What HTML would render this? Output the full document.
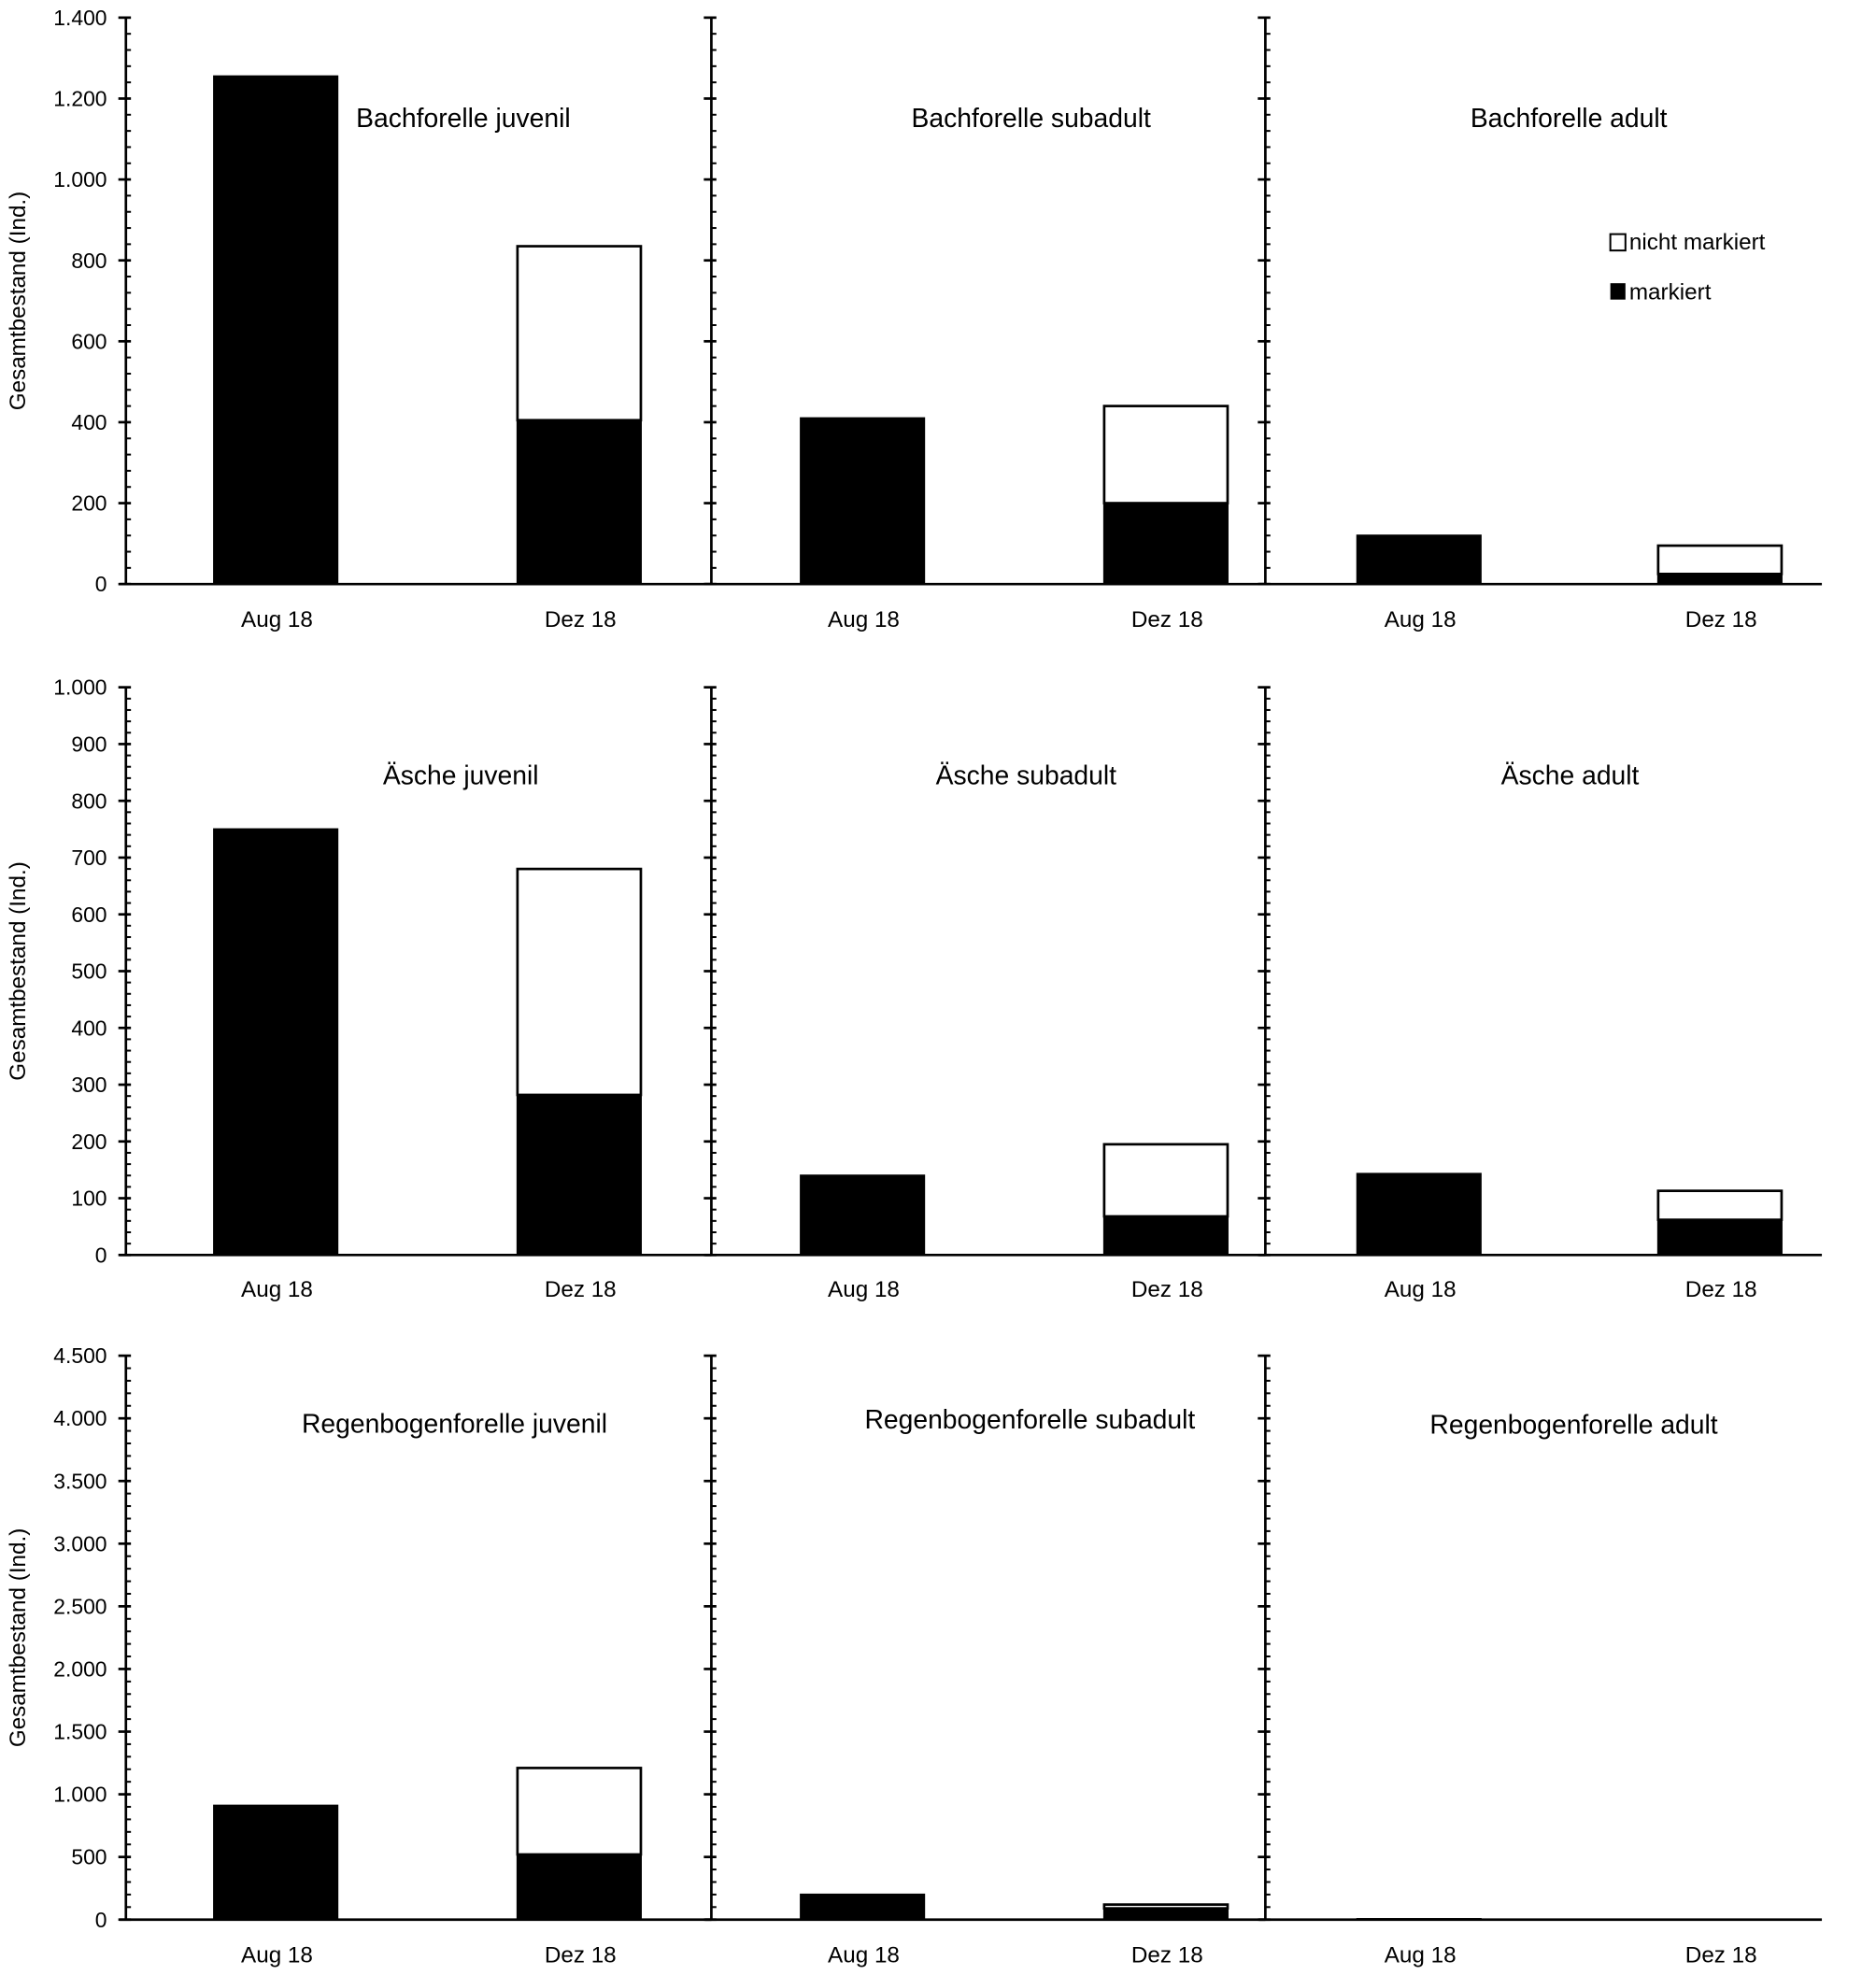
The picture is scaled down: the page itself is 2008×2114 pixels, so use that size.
<!DOCTYPE html>
<html><head><meta charset="utf-8"><style>
html,body{margin:0;padding:0;background:#fff}
svg{display:block;font-family:"Liberation Sans",Arial,sans-serif}
</style></head><body>
<svg id="chart" width="2008" height="2114" viewBox="0 0 1490 1569" preserveAspectRatio="none" xmlns="http://www.w3.org/2000/svg"></svg>
<script>
const categories = ["Aug 18","Dez 18"];
const panelTitles = [
 ["Bachforelle juvenil","Bachforelle subadult","Bachforelle adult"],
 ["Äsche juvenil","Äsche subadult","Äsche adult"],
 ["Regenbogenforelle juvenil","Regenbogenforelle subadult","Regenbogenforelle adult"]];
const markedRow1 = [[1255,405],[410,200],[120,25]];
const unmarkedRow1 = [[0,430],[0,240],[0,70]];
const markedRow2 = [[750,282],[140,68],[143,62]];
const unmarkedRow2 = [[0,398],[0,127],[0,51]];
const markedRow3 = [[910,520],[200,90],[5,0]];
const unmarkedRow3 = [[0,690],[0,30],[0,0]];
const yMax = [1400,1000,4500];
const yStep = [200,100,500];
const yTickLabelsRow1 = ["0","200","400","600","800","1.000","1.200","1.400"];
const yTickLabelsRow2 = ["0","100","200","300","400","500","600","700","800","900","1.000"];
const yTickLabelsRow3 = ["0","500","1.000","1.500","2.000","2.500","3.000","3.500","4.000","4.500"];

const svg = document.getElementById('chart');
const NS = "http://www.w3.org/2000/svg";
function mk(tag, attrs, parent){const e=document.createElementNS(NS,tag);for(const k in attrs)e.setAttribute(k,attrs[k]);(parent||svg).appendChild(e);return e;}

const rows = [
 {top:14, base:464, marked:markedRow1, unmarked:unmarkedRow1, labels:yTickLabelsRow1, titleY:[94,94,94], titleX:[368,819,1246], labelY:492},
 {top:546, base:997, marked:markedRow2, unmarked:unmarkedRow2, labels:yTickLabelsRow2, titleY:[616,616,616], titleX:[366,815,1247], labelY:1024},
 {top:1077, base:1525, marked:markedRow3, unmarked:unmarkedRow3, labels:yTickLabelsRow3, titleY:[1131,1128,1132], titleX:[361,818,1250], labelY:1553}];
const axisX = [100,565,1005];
const panelEnd = [565,1005,1447];
const barCenters = [[219,460],[685,926],[1127,1366]];
const barW = 98;

rows.forEach((r,ri)=>{
  const y = v => r.base - (v/yMax[ri])*(r.base-r.top);
  const g = mk('g',{});
  
  
  const yt = mk('text',{x:0,y:0,transform:`translate(20,${(r.top+r.base)/2}) rotate(-90)`,'text-anchor':'middle','font-size':18},g);
  yt.textContent='Gesamtbestand (Ind.)';
  
  
  r.labels.forEach((lab,i)=>{
    const t=mk('text',{x:85,y:y(i*yStep[ri])+6,'text-anchor':'end','font-size':17},g);
    t.textContent=lab;
    
    
  });
  for(let p=0;p<3;p++){
    const ax=axisX[p];
    mk('line',{x1:ax,y1:r.top,x2:ax,y2:r.base,stroke:'#000','stroke-width':2},g);
    const nMinor = Math.round(yMax[ri]/yStep[ri])*5;
    for(let k=0;k<=nMinor;k++){
      const yy=r.top+(r.base-r.top)*k/nMinor;
      if(k%5===0) mk('line',{x1:ax-6,y1:yy,x2:ax+4,y2:yy,stroke:'#000','stroke-width':2},g);
      else mk('line',{x1:ax,y1:yy,x2:ax+4,y2:yy,stroke:'#000','stroke-width':1.5},g);
    }
    mk('line',{x1:ax-5,y1:r.base,x2:panelEnd[p],y2:r.base,stroke:'#000','stroke-width':2},g);
    categories.forEach((c,ci)=>{
      const m=r.marked[p][ci], u=r.unmarked[p][ci];
      const x=barCenters[p][ci]-barW/2;
      if(m>0){
        const b=mk('rect',{x:x,y:y(m),width:barW,height:r.base-y(m),fill:'#000',stroke:'#000','stroke-width':1.5},g);
        
        
      }
      if(u>0){
        const b=mk('rect',{x:x,y:y(m+u),width:barW,height:y(m)-y(m+u),fill:'#fff',stroke:'#000','stroke-width':2},g);
        
        
      }
      const t=mk('text',{x:barCenters[p][ci]+1,y:r.labelY+6,'text-anchor':'middle','font-size':18},g);
      t.textContent=c;
      
      
    });
    const tt=mk('text',{x:r.titleX[p],y:r.titleY[p]+7,'text-anchor':'middle','font-size':21},g);
    tt.textContent=panelTitles[ri][p];
    
    
  }
});
const lg=mk('g',{});


mk('rect',{x:1279,y:186,width:12,height:13,fill:'#fff',stroke:'#000','stroke-width':1.5},lg);
const l1=mk('text',{x:1294,y:198,'font-size':18},lg);l1.textContent='nicht markiert';


mk('rect',{x:1279,y:225,width:12,height:13,fill:'#000'},lg);
const l2=mk('text',{x:1294,y:238,'font-size':18},lg);l2.textContent='markiert';


</script>
</body></html>
